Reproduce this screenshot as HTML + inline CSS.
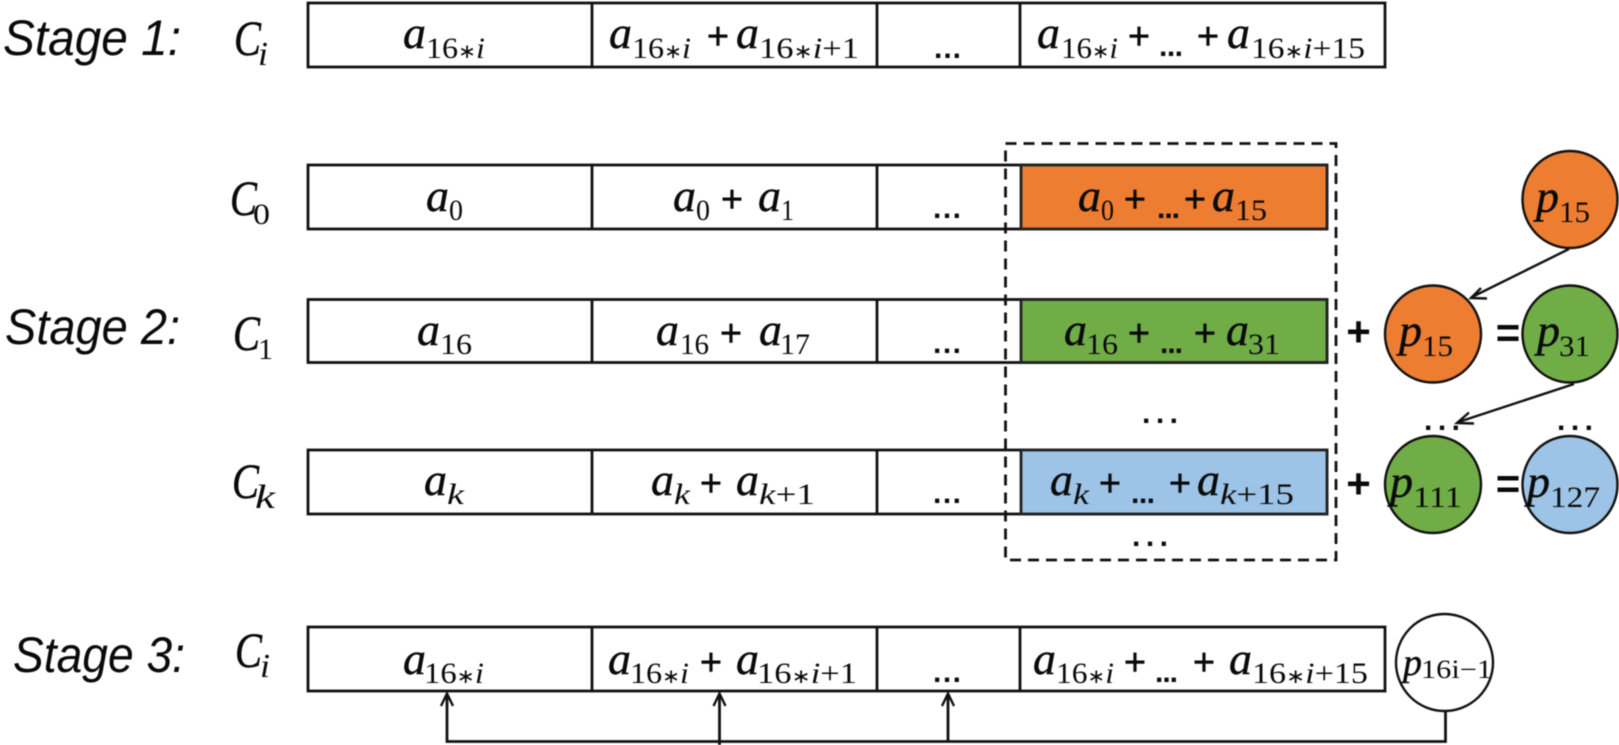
<!DOCTYPE html>
<html><head><meta charset="utf-8">
<style>
html,body{margin:0;padding:0;background:#fff;width:1619px;height:745px;overflow:hidden}
svg{display:block;filter:blur(.45px)}
text{fill:#0a0a0a}
.m{font:italic 46px "Liberation Serif",serif;stroke:#0a0a0a;stroke-width:.4}
.c{font:italic 50px "Liberation Serif",serif;stroke:#0a0a0a;stroke-width:.5}
.s{font:30px "Liberation Serif",serif}
.si{font:italic 30px "Liberation Serif",serif}
.ci{font:italic 34px "Liberation Serif",serif}
.ast{font:20px "DejaVu Sans",sans-serif}
.p{font:38px "Liberation Sans",sans-serif;text-anchor:middle;stroke:#0a0a0a;stroke-width:.5}
.pb{font:bold 42px "Liberation Sans",sans-serif;text-anchor:middle}
.d{font:bold 30px "Liberation Sans",sans-serif}
.dl{font:bold 30px "Liberation Sans",sans-serif}
.st{font:italic 50px "Liberation Sans",sans-serif}
.b{fill:#fff;stroke:#111;stroke-width:2.8}
.l{stroke:#111;stroke-width:2.8;fill:none}
.a{stroke:#111;stroke-width:2.4;fill:none}
</style></head><body>
<svg width="1619" height="745" viewBox="0 0 1619 745" xmlns="http://www.w3.org/2000/svg">

<!-- Rows -->
<rect class="b" x="308" y="3" width="1077" height="64"/>
<path class="l" d="M592 3V67M877 3V67M1020 3V67"/>

<rect class="b" x="308" y="165" width="1019" height="64"/>
<rect x="1021" y="165" width="306" height="64" fill="#ED7D31" stroke="#222" stroke-width="2.8"/>
<path class="l" d="M592 165V229M877 165V229"/>

<rect class="b" x="308" y="299.5" width="1019" height="63"/>
<rect x="1021" y="299.5" width="306" height="63" fill="#70AD47" stroke="#222" stroke-width="2.8"/>
<path class="l" d="M592 299.5V362.5M877 299.5V362.5"/>

<rect class="b" x="308" y="450" width="1019" height="64"/>
<rect x="1021" y="450" width="306" height="64" fill="#9DC3E6" stroke="#222" stroke-width="2.8"/>
<path class="l" d="M592 450V514M877 450V514"/>

<rect class="b" x="308" y="627" width="1077" height="64"/>
<path class="l" d="M592 627V691M877 627V691M1020 627V691"/>

<!-- Dashed box -->
<rect x="1005.5" y="143.5" width="330.5" height="416.5" fill="none" stroke="#111" stroke-width="2.8" stroke-dasharray="11 7"/>

<!-- Stage labels -->
<text class="st" x="3" y="55" textLength="178" lengthAdjust="spacingAndGlyphs">Stage 1:</text>
<text class="st" x="5" y="344" textLength="175" lengthAdjust="spacingAndGlyphs">Stage 2:</text>
<text class="st" x="13" y="672" textLength="172" lengthAdjust="spacingAndGlyphs">Stage 3:</text>

<!-- C labels -->
<text class="c" x="234" y="55" textLength="27" lengthAdjust="spacingAndGlyphs">C</text><text class="ci" x="258" y="65" textLength="10" lengthAdjust="spacingAndGlyphs">i</text>
<text class="c" x="230" y="215" textLength="27" lengthAdjust="spacingAndGlyphs">C</text><text class="s" x="253" y="224" textLength="17" lengthAdjust="spacingAndGlyphs">0</text>
<text class="c" x="233" y="350" textLength="27" lengthAdjust="spacingAndGlyphs">C</text><text class="s" x="258" y="359" textLength="15" lengthAdjust="spacingAndGlyphs">1</text>
<text class="c" x="232" y="498" textLength="27" lengthAdjust="spacingAndGlyphs">C</text><text class="ci" x="255" y="508" textLength="20" lengthAdjust="spacingAndGlyphs">k</text>
<text class="c" x="235" y="667" textLength="27" lengthAdjust="spacingAndGlyphs">C</text><text class="ci" x="260" y="677" textLength="10" lengthAdjust="spacingAndGlyphs">i</text>

<!-- Stage 1 row -->
<text class="m" x="403" y="48">a</text><text class="s" x="426" y="58" textLength="59" lengthAdjust="spacingAndGlyphs">16<tspan class="ast">∗</tspan><tspan class="si">i</tspan></text>
<text class="m" x="609" y="48">a</text><text class="s" x="632" y="58" textLength="59" lengthAdjust="spacingAndGlyphs">16<tspan class="ast">∗</tspan><tspan class="si">i</tspan></text>
<text class="p" x="718" y="49">+</text>
<text class="m" x="736" y="48">a</text><text class="s" x="759" y="58" textLength="100" lengthAdjust="spacingAndGlyphs">16<tspan class="ast">∗</tspan><tspan class="si">i</tspan>+1</text>
<text class="d" x="934" y="58" textLength="27">...</text>
<text class="m" x="1037" y="48">a</text><text class="s" x="1061" y="58" textLength="57" lengthAdjust="spacingAndGlyphs">16<tspan class="ast">∗</tspan><tspan class="si">i</tspan></text>
<text class="p" x="1139" y="49">+</text>
<text class="dl" x="1159" y="56" textLength="24">...</text>
<text class="p" x="1208" y="49">+</text>
<text class="m" x="1227" y="48">a</text><text class="s" x="1251" y="58" textLength="114" lengthAdjust="spacingAndGlyphs">16<tspan class="ast">∗</tspan><tspan class="si">i</tspan>+15</text>

<!-- C0 row -->
<text class="m" x="426" y="211">a</text><text class="s" x="449" y="220" textLength="14" lengthAdjust="spacingAndGlyphs">0</text>
<text class="m" x="673" y="211">a</text><text class="s" x="696" y="220" textLength="14" lengthAdjust="spacingAndGlyphs">0</text>
<text class="p" x="732" y="212">+</text>
<text class="m" x="758" y="211">a</text><text class="s" x="781" y="220" textLength="13" lengthAdjust="spacingAndGlyphs">1</text>
<text class="d" x="933" y="218" textLength="28">...</text>
<text class="m" x="1078" y="211">a</text><text class="s" x="1101" y="220" textLength="13" lengthAdjust="spacingAndGlyphs">0</text>
<text class="p" x="1135" y="212">+</text>
<text class="dl" x="1157" y="218" textLength="23">...</text>
<text class="p" x="1195" y="212">+</text>
<text class="m" x="1212" y="211">a</text><text class="s" x="1235" y="220" textLength="32" lengthAdjust="spacingAndGlyphs">15</text>

<!-- C1 row -->
<text class="m" x="417" y="345">a</text><text class="s" x="440" y="354" textLength="32" lengthAdjust="spacingAndGlyphs">16</text>
<text class="m" x="656" y="345">a</text><text class="s" x="680" y="354" textLength="29" lengthAdjust="spacingAndGlyphs">16</text>
<text class="p" x="731" y="346">+</text>
<text class="m" x="759" y="345">a</text><text class="s" x="780" y="354" textLength="30" lengthAdjust="spacingAndGlyphs">17</text>
<text class="d" x="933" y="353" textLength="28">...</text>
<text class="m" x="1064" y="345">a</text><text class="s" x="1086" y="354" textLength="32" lengthAdjust="spacingAndGlyphs">16</text>
<text class="p" x="1139" y="346">+</text>
<text class="dl" x="1160" y="353" textLength="23">...</text>
<text class="p" x="1205" y="346">+</text>
<text class="m" x="1226" y="345">a</text><text class="s" x="1248" y="354" textLength="32" lengthAdjust="spacingAndGlyphs">31</text>

<!-- mid dots -->
<text class="d" x="1142" y="423" textLength="36">...</text>
<text class="d" x="1132" y="546" textLength="36">...</text>
<text class="d" x="1424" y="430" textLength="36">...</text>
<text class="d" x="1557" y="430" textLength="36">...</text>

<!-- Ck row -->
<text class="m" x="424" y="495">a</text><text class="si" x="447" y="504" textLength="17" lengthAdjust="spacingAndGlyphs">k</text>
<text class="m" x="651" y="495">a</text><text class="si" x="674" y="504" textLength="16" lengthAdjust="spacingAndGlyphs">k</text>
<text class="p" x="711" y="496">+</text>
<text class="m" x="736" y="495">a</text><text class="s" x="759" y="504" textLength="56" lengthAdjust="spacingAndGlyphs"><tspan class="si">k</tspan>+1</text>
<text class="d" x="933" y="503" textLength="28">...</text>
<text class="m" x="1050" y="495">a</text><text class="si" x="1073" y="504" textLength="16" lengthAdjust="spacingAndGlyphs">k</text>
<text class="p" x="1110" y="496">+</text>
<text class="dl" x="1131" y="503" textLength="24">...</text>
<text class="p" x="1180" y="496">+</text>
<text class="m" x="1197" y="495">a</text><text class="s" x="1220" y="504" textLength="74" lengthAdjust="spacingAndGlyphs"><tspan class="si">k</tspan>+15</text>

<!-- Stage 3 row -->
<text class="m" x="403" y="674">a</text><text class="s" x="424" y="683" textLength="60" lengthAdjust="spacingAndGlyphs">16<tspan class="ast">∗</tspan><tspan class="si">i</tspan></text>
<text class="m" x="608" y="674">a</text><text class="s" x="630" y="683" textLength="59" lengthAdjust="spacingAndGlyphs">16<tspan class="ast">∗</tspan><tspan class="si">i</tspan></text>
<text class="p" x="711" y="675">+</text>
<text class="m" x="736" y="674">a</text><text class="s" x="757" y="683" textLength="100" lengthAdjust="spacingAndGlyphs">16<tspan class="ast">∗</tspan><tspan class="si">i</tspan>+1</text>
<text class="d" x="933" y="682" textLength="28">...</text>
<text class="m" x="1033" y="674">a</text><text class="s" x="1056" y="683" textLength="58" lengthAdjust="spacingAndGlyphs">16<tspan class="ast">∗</tspan><tspan class="si">i</tspan></text>
<text class="p" x="1135" y="675">+</text>
<text class="dl" x="1155" y="682" textLength="23">...</text>
<text class="p" x="1204" y="675">+</text>
<text class="m" x="1229" y="674">a</text><text class="s" x="1252" y="683" textLength="116" lengthAdjust="spacingAndGlyphs">16<tspan class="ast">∗</tspan><tspan class="si">i</tspan>+15</text>

<!-- Circles -->
<ellipse cx="1570" cy="199.5" rx="47.5" ry="48.5" fill="#ED7D31" stroke="#111" stroke-width="2.4"/>
<ellipse cx="1433" cy="334" rx="48" ry="48.5" fill="#ED7D31" stroke="#111" stroke-width="2.4"/>
<ellipse cx="1570" cy="334" rx="47.5" ry="48.5" fill="#70AD47" stroke="#111" stroke-width="2.4"/>
<ellipse cx="1433" cy="484.5" rx="48" ry="48.5" fill="#70AD47" stroke="#111" stroke-width="2.4"/>
<ellipse cx="1570" cy="484.5" rx="47.5" ry="48.5" fill="#9DC3E6" stroke="#111" stroke-width="2.4"/>
<ellipse cx="1444.5" cy="662.5" rx="48.5" ry="48.5" fill="#fff" stroke="#111" stroke-width="2.4"/>

<!-- Circle labels -->
<text class="m" x="1536" y="212">p</text><text class="s" x="1559" y="222" textLength="31" lengthAdjust="spacingAndGlyphs">15</text>
<text class="m" x="1399" y="346">p</text><text class="s" x="1422" y="356" textLength="31" lengthAdjust="spacingAndGlyphs">15</text>
<text class="m" x="1537" y="346">p</text><text class="s" x="1559" y="356" textLength="31" lengthAdjust="spacingAndGlyphs">31</text>
<text class="m" x="1390" y="497">p</text><text class="s" x="1413" y="507" textLength="49" lengthAdjust="spacingAndGlyphs">111</text>
<text class="m" x="1527" y="497">p</text><text class="s" x="1550" y="507" textLength="50" lengthAdjust="spacingAndGlyphs">127</text>
<text class="m" x="1403" y="675" style="font-size:38px">p</text><text class="s" x="1421" y="678" textLength="71" lengthAdjust="spacingAndGlyphs" style="font-size:26px">16i−1</text>

<!-- + and = -->
<text class="pb" x="1358.5" y="346">+</text>
<text class="pb" x="1508" y="347">=</text>
<text class="pb" x="1358.5" y="498">+</text>
<text class="pb" x="1508" y="498">=</text>

<!-- Arrows -->
<path class="a" d="M1569 249L1471 297.5M1481 288L1471 298L1487 298.5"/>
<path class="a" d="M1574 384L1457 422.5M1469 412.5L1457 423L1474 423.5"/>
<path class="l" d="M1445.5 711V741.5H447V695"/>
<path class="l" d="M719.5 745V695M948 741.5V695"/>
<path class="a" d="M441 706L447 693.5L453 706M713.5 706L719.5 693.5L725.5 706M942 706L948 693.5L954 706"/>
</svg>
</body></html>
